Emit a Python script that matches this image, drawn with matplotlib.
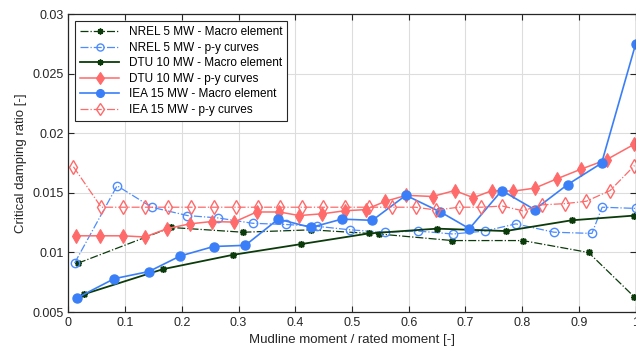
import matplotlib
matplotlib.use('Agg')
import matplotlib.pyplot as plt

plt.rcParams['font.family'] = ['Liberation Sans', 'DejaVu Sans']

# NREL 5 MW - Macro element
nrel_me_x = [0.017, 0.181, 0.308, 0.428, 0.548, 0.677, 0.801, 0.917, 0.997]
nrel_me_y = [0.0091, 0.0121, 0.0117, 0.0119, 0.01155, 0.0110, 0.0110, 0.0100, 0.0063]

# NREL 5 MW - p-y curves
nrel_py_x = [0.011, 0.086, 0.147, 0.210, 0.264, 0.325, 0.384, 0.438, 0.497, 0.558,
             0.616, 0.678, 0.734, 0.789, 0.856, 0.923, 0.941, 1.0]
nrel_py_y = [0.0091, 0.0156, 0.0138, 0.0131, 0.0129, 0.01245, 0.01235, 0.0122, 0.0119, 0.0117,
             0.0118, 0.01155, 0.0118, 0.0124, 0.0117, 0.0116, 0.0138, 0.0137]

# DTU 10 MW - Macro element
dtu_me_x = [0.028, 0.167, 0.29, 0.41, 0.53, 0.65, 0.771, 0.887, 0.998]
dtu_me_y = [0.0065, 0.0086, 0.0098, 0.0107, 0.0116, 0.0120, 0.0118, 0.0127, 0.0131]

# DTU 10 MW - p-y curves
dtu_py_x = [0.014, 0.056, 0.096, 0.135, 0.174, 0.214, 0.253, 0.292, 0.332, 0.372,
            0.407, 0.448, 0.487, 0.524, 0.559, 0.596, 0.642, 0.681, 0.714, 0.747,
            0.784, 0.822, 0.862, 0.904, 0.949, 0.998]
dtu_py_y = [0.0114, 0.0114, 0.0114, 0.0113, 0.0120, 0.0124, 0.0126, 0.01255, 0.0134, 0.0134,
            0.0131, 0.01325, 0.0135, 0.0136, 0.0143, 0.0148, 0.0147, 0.0152, 0.0146, 0.0152,
            0.01515, 0.0154, 0.0162, 0.0170, 0.0178, 0.0191]

# IEA 15 MW - Macro element
iea_me_x = [0.016, 0.081, 0.142, 0.197, 0.256, 0.312, 0.37, 0.428, 0.482, 0.536,
            0.595, 0.656, 0.707, 0.764, 0.822, 0.880, 0.94, 1.0]
iea_me_y = [0.0062, 0.0078, 0.0084, 0.0097, 0.0105, 0.0106, 0.0128, 0.0121, 0.0128, 0.0127,
            0.0148, 0.0134, 0.0120, 0.0152, 0.0136, 0.0157, 0.0175, 0.0275]

# IEA 15 MW - p-y curves
iea_py_x = [0.009, 0.058, 0.097, 0.136, 0.176, 0.216, 0.256, 0.296, 0.335, 0.374,
            0.412, 0.449, 0.487, 0.530, 0.571, 0.612, 0.649, 0.688, 0.728, 0.765,
            0.801, 0.835, 0.875, 0.913, 0.955, 0.998]
iea_py_y = [0.0172, 0.0138, 0.0138, 0.0138, 0.0138, 0.0138, 0.0138, 0.0138, 0.0138, 0.0138,
            0.0138, 0.0138, 0.0138, 0.0138, 0.0138, 0.0138, 0.01356, 0.0138, 0.0138, 0.0139,
            0.0135, 0.0140, 0.0141, 0.0143, 0.0152, 0.0173]

green = '#0b3b0b'
red = '#ff6a6a'
blue = '#3a7ff8'
lblue = '#4d8cff'

fig = plt.figure(figsize=(6.36, 3.54), dpi=100)
ax = fig.add_axes([0.1074, 0.1186, 0.892, 0.8410])

ax.plot(nrel_me_x, nrel_me_y, '-.', color=green, lw=0.9, marker=(8, 2, 0), ms=5, mew=1.1,
        label='NREL 5 MW - Macro element')
ax.plot(nrel_py_x, nrel_py_y, '-.', color=lblue, lw=0.9, marker='o', ms=6, mfc='none', mew=1,
        label='NREL 5 MW - p-y curves')
ax.plot(dtu_me_x, dtu_me_y, '-', color=green, lw=1.3, marker=(8, 2, 0), ms=5, mew=1.1,
        label='DTU 10 MW - Macro element')
ax.plot(dtu_py_x, dtu_py_y, '-', color=red, lw=1.1, marker='d', ms=7.5, mew=0.8,
        label='DTU 10 MW - p-y curves')
ax.plot(iea_me_x, iea_me_y, '-', color=blue, lw=1.2, marker='o', ms=6.5,
        label='IEA 15 MW - Macro element')
ax.plot(iea_py_x, iea_py_y, '-.', color=red, lw=0.9, marker='d', ms=7.5, mfc='none', mew=1,
        label='IEA 15 MW - p-y curves')

ax.set_xlim(0, 1)
ax.set_ylim(0.005, 0.03)
xt = [i / 10 for i in range(11)]
ax.set_xticks(xt)
ax.set_xticklabels(['%g' % v for v in xt])
yt = [0.005, 0.01, 0.015, 0.02, 0.025, 0.03]
ax.set_yticks(yt)
ax.set_yticklabels(['%g' % v for v in yt])
ax.tick_params(direction='in', top=True, right=True, labelsize=9, colors='#262626', length=4)
ax.grid(True, color='#dddddd', lw=0.8)
ax.set_axisbelow(True)
for s in ax.spines.values():
    s.set_color('#262626')
    s.set_linewidth(0.9)

ax.set_xlabel('Mudline moment / rated moment [-]', fontsize=9.5, color='#262626')
ax.set_ylabel('Critical damping ratio [-]', fontsize=9.5, color='#262626')

leg = ax.legend(loc='upper left', fontsize=8.5, fancybox=False, edgecolor='#262626',
                framealpha=1, borderaxespad=0.6, handlelength=3.3, labelspacing=0.3,
                markerscale=0.85)
leg.get_frame().set_linewidth(0.8)

plt.savefig('out.png', dpi=100)
